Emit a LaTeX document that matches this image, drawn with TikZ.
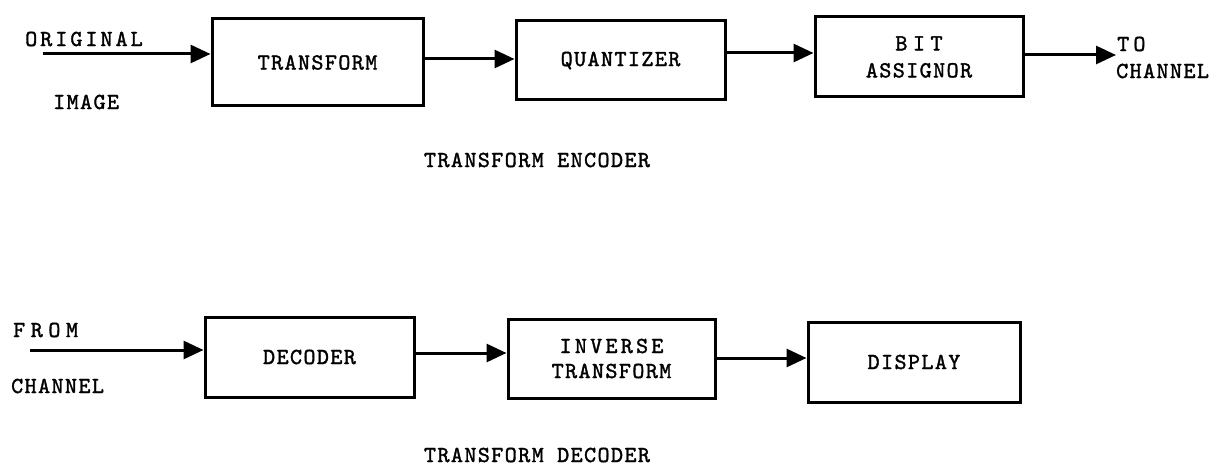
\documentclass[tikz,border=0pt]{standalone}
\usepackage{fontspec}
\usetikzlibrary{arrows.meta}
\newfontfamily\twfam{lmmono10-regular.otf}[FakeBold=1.5,LetterSpace=6]
\newcommand\twfont{\twfam\fontsize{23}{27}\selectfont}
\begin{document}
\begin{tikzpicture}[x=1pt,y=-1pt,
  font=\twfont,
  blk/.style={draw, line width=3pt, inner sep=0pt, align=center},
  arr/.style={line width=3pt, -{Triangle[length=20pt,width=18pt]}},
  lbl/.style={inner sep=0pt}]
\useasboundingbox (0,0) rectangle (1218,468);
% encoder boxes
\node[blk, minimum width=211pt, minimum height=87pt] (btr) at (317.5,62.5) {TRANSFORM};
\node[blk, minimum width=209pt, minimum height=79pt] (bqu) at (620.5,60.5) {QUANTIZER};
\node[blk, minimum width=208pt, minimum height=80pt] (bbit) at (919,57) {{\addfontfeature{LetterSpace=24}BIT}\\[0pt]ASSIGNOR};
% decoder boxes
\node[blk, minimum width=209pt, minimum height=80pt] (bdec) at (309.5,357) {DECODER};
\node[blk, minimum width=207pt, minimum height=79pt] (binv) at (611.5,358.5) {{\addfontfeature{LetterSpace=14}INVERSE}\\[-2pt]TRANSFORM};
\node[blk, minimum width=212pt, minimum height=80pt] (bdis) at (914,362) {DISPLAY};
% labels
\node[lbl, anchor=west] (orig) at (25,39) {\addfontfeature{LetterSpace=13}ORIGINAL};
\node[lbl, anchor=west] (img) at (53,102) {IMAGE};
\node[lbl, anchor=west] (to) at (1117,44) {\addfontfeature{LetterSpace=18}TO};
\node[lbl, anchor=west] (ch1) at (1116,71) {CHANNEL};
\node[lbl] (enc) at (537,160) {TRANSFORM ENCODER};
\node[lbl, anchor=west] (from) at (13,330) {\addfontfeature{LetterSpace=24}FROM};
\node[lbl, anchor=west] (ch2) at (11,386) {CHANNEL};
\node[lbl] (decl) at (537,455) {TRANSFORM DECODER};
% free ends
\coordinate (in1) at (43,54);
\coordinate (out1) at (1116,55);
\coordinate (in2) at (30,350);
% connectors
\draw[arr] (in1) -- ([yshift=8.5pt]btr.west);
\draw[arr] ([yshift=3.5pt]btr.east) -- ([yshift=1.5pt]bqu.west);
\draw[arr] ([yshift=7.5pt]bqu.east) -- ([yshift=4pt]bbit.west);
\draw[arr] ([yshift=2pt]bbit.east) -- (out1);
\draw[arr] (in2) -- ([yshift=7pt]bdec.west);
\draw[arr] ([yshift=4pt]bdec.east) -- ([yshift=5.5pt]binv.west);
\draw[arr] ([yshift=0.5pt]binv.east) -- ([yshift=4pt]bdis.west);
\end{tikzpicture}
\end{document}
